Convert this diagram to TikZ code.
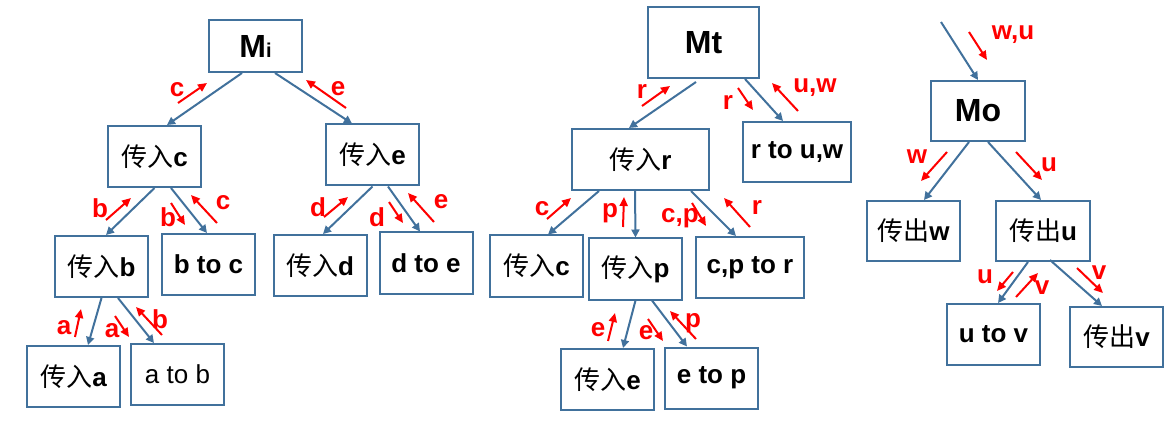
\documentclass[tikz,border=0pt]{standalone}
\usepackage{fontspec}
\setmainfont{Liberation Sans}
\newfontfamily\cjk{Noto Sans CJK SC}
\usetikzlibrary{arrows.meta}
\definecolor{boxblue}{RGB}{65,113,156}
\definecolor{lblred}{RGB}{255,0,0}
\newcommand{\cn}[1]{{\cjk\mdseries #1}}
\begin{document}
\begin{tikzpicture}[x=1pt,y=-1pt,
 box/.style={draw=boxblue,line width=2pt,minimum width=93pt,minimum height=61pt,inner sep=0pt,font=\fontsize{26}{30}\selectfont\bfseries,text=black},
 bigbox/.style={box,font=\fontsize{32}{36}\selectfont\bfseries},
 conn/.style={draw=boxblue,line width=2pt,-{Triangle[length=8pt,width=8pt]}},
 rarr/.style={draw=lblred,line width=2pt,-{Triangle[length=9pt,width=8pt]}},
 rlbl/.style={text=lblred,font=\fontsize{26}{28}\selectfont\bfseries,inner sep=0pt},
]
\useasboundingbox (0,0) rectangle (1170,422);
% ---------- left tree
\node[bigbox,minimum height=52pt] (Mi) at (255.5,46) {M{\fontsize{20}{20}\selectfont i}};
\node[box] (c1) at (154.5,156.5) {\cn{传入}c};
\node[box] (e1) at (372.5,155) {\cn{传入}e};
\node[box] (b1) at (101.5,266.5) {\cn{传入}b};
\node[box] (btc) at (208.5,264.5) {b to c};
\node[box] (d1) at (320,265.5) {\cn{传入}d};
\node[box] (dte) at (426,263) {d to e};
\node[box] (a1) at (73.5,376.5) {\cn{传入}a};
\node[box,font=\fontsize{26}{30}\selectfont] (atb) at (177.5,374.5) {a to b};
\draw[conn] ([xshift=-13.5pt]Mi.south) -- ([xshift=12.5pt]c1.north);
\draw[conn] ([xshift=19.5pt]Mi.south) -- ([xshift=-20.5pt]e1.north);
\draw[conn] (c1.south) -- ([xshift=4.5pt]b1.north);
\draw[conn] ([xshift=16.5pt]c1.south) -- ([xshift=-1.5pt]btc.north);
\draw[conn] (e1.south) -- ([xshift=3pt]d1.north);
\draw[conn] ([xshift=15.5pt]e1.south) -- ([xshift=-6pt]dte.north);
\draw[conn] (b1.south) -- ([xshift=14.5pt]a1.north);
\draw[conn] ([xshift=16.5pt]b1.south) -- ([xshift=-23.5pt]atb.north);
\draw[rarr] (178,103) -- (207,83);  \node[rlbl] (lc1) at (177,90) {c};
\draw[rarr] (346,108) -- (306,80);  \node[rlbl] (le1) at (338,89) {e};
\draw[rarr] (106,220) -- (131,198); \node[rlbl] (lb1) at (100,208) {b};
\draw[rarr] (171,203) -- (185,225); \node[rlbl] (lb2) at (168,217) {b};
\draw[rarr] (217,223) -- (191,195); \node[rlbl] (lc2) at (223,203) {c};
\draw[rarr] (324,217) -- (348,197); \node[rlbl] (ld1) at (318,207) {d};
\draw[rarr] (389,202) -- (403,223); \node[rlbl] (ld2) at (377,217) {d};
\draw[rarr] (434,222) -- (408,193); \node[rlbl] (le2) at (441,202) {e};
\draw[rarr] (75,337) -- (81,309);   \node[rlbl] (la1) at (64,328) {a};
\draw[rarr] (115,316) -- (129,337); \node[rlbl] (la2) at (112,331) {a};
\draw[rarr] (162,335) -- (136,307); \node[rlbl] (lb3) at (160,319) {b};
% ---------- middle tree
\node[bigbox,minimum width=111pt,minimum height=71pt] (Mt) at (703.5,42.5) {Mt};
\node[box,minimum width=137pt] (r1) at (640.5,159.5) {\cn{传入}r};
\node[box,minimum width=108pt,minimum height=60pt] (rtuw) at (797,152) {r to u,w};
\node[box] (c2) at (536.5,266) {\cn{传入}c};
\node[box] (p1) at (635.5,269) {\cn{传入}p};
\node[box,minimum width=108pt] (cptr) at (750,267.5) {c,p to r};
\node[box] (e2) at (607.5,379.5) {\cn{传入}e};
\node[box] (etp) at (711.5,378) {e to p};
\draw[conn] ([xshift=-7.5pt,yshift=-3pt]Mt.south) -- ([xshift=-11.5pt]r1.north);
\draw[conn] ([xshift=41.5pt]Mt.south) -- ([xshift=-14pt]rtuw.north);
\draw[conn] ([xshift=-41.5pt]r1.south) -- ([xshift=11.5pt]c2.north);
\draw[conn] ([xshift=-5.5pt]r1.south) -- (p1.north);
\draw[conn] ([xshift=50.5pt]r1.south) -- ([xshift=-14pt]cptr.north);
\draw[conn] (p1.south) -- ([xshift=15.5pt]e2.north);
\draw[conn] ([xshift=16.5pt]p1.south) -- ([xshift=-24.5pt]etp.north);
\draw[rarr] (642,106) -- (670,86);  \node[rlbl] (lr1) at (642,92) {r};
\draw[rarr] (738,88) -- (753,110);  \node[rlbl] (lr2) at (728,103) {r};
\draw[rarr] (798,111) -- (772,83);  \node[rlbl] (luw) at (815,88) {u,w};
\draw[rarr] (547,219) -- (571,198); \node[rlbl] (lc3) at (542,209) {c};
\draw[rarr] (623,227) -- (624,197); \node[rlbl] (lp1) at (610,213) {p};
\draw[rarr] (692,203) -- (706,226); \node[rlbl] (lcp) at (680,218) {c,p};
\draw[rarr] (750,227) -- (724,198); \node[rlbl] (lr3) at (757,207) {r};
\draw[rarr] (608,341) -- (615,313); \node[rlbl] (le3) at (598,330) {e};
\draw[rarr] (648,319) -- (663,341); \node[rlbl] (le4) at (646,333) {e};
\draw[rarr] (696,339) -- (670,311); \node[rlbl] (lp2) at (693,323) {p};
% ---------- right tree
\node[bigbox,minimum width=94pt,minimum height=60pt] (Mo) at (978,111) {Mo};
\node[box,minimum height=60pt] (w1) at (913.5,231) {\cn{传出}w};
\node[box,minimum width=94pt,minimum height=60pt] (u1) at (1043,231) {\cn{传出}u};
\node[box] (utv) at (993.5,334.5) {u to v};
\node[box,minimum height=60pt] (v1) at (1116.5,337) {\cn{传出}v};
\coordinate (inc) at (941,22);
\draw[conn] (inc) -- (Mo.north);
\draw[conn] ([xshift=-9pt]Mo.south) -- ([xshift=10.5pt]w1.north);
\draw[conn] ([xshift=10pt]Mo.south) -- ([xshift=-2pt]u1.north);
\draw[conn] ([xshift=-15pt]u1.south) -- ([xshift=4.5pt]utv.north);
\draw[conn] ([xshift=7pt,yshift=2pt]u1.south) -- ([xshift=-14.5pt]v1.north);
\draw[rarr] (969,32) -- (987,60);    \node[rlbl] (lwu) at (1013,35) {w,u};
\draw[rarr] (947,152) -- (921,181);  \node[rlbl] (lw1) at (917,157) {w};
\draw[rarr] (1016,152) -- (1042,180); \node[rlbl] (lu1) at (1049,165) {u};
\draw[rarr] (1013,272) -- (997,291); \node[rlbl] (lu2) at (985,277) {u};
\draw[rarr] (1016,297) -- (1038,273); \node[rlbl] (lv1) at (1042,288) {v};
\draw[rarr] (1077,268) -- (1103,293); \node[rlbl] (lv2) at (1099,273) {v};
\end{tikzpicture}
\end{document}
